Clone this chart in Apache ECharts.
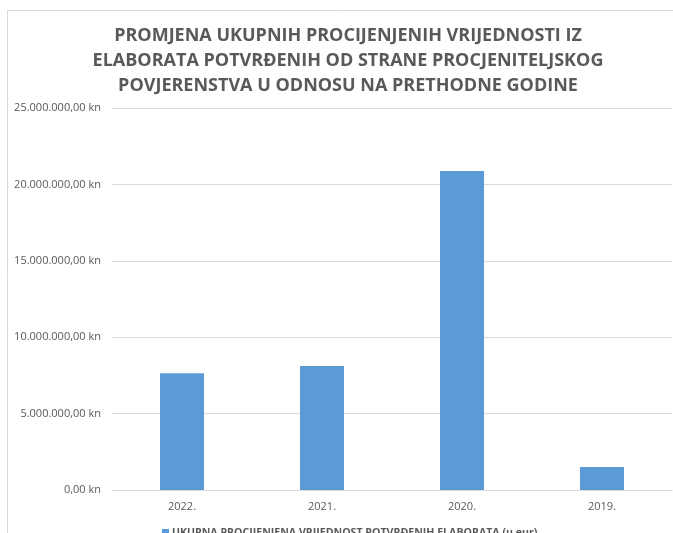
<!DOCTYPE html>
<html>
<head>
<meta charset="utf-8">
<script src="https://cdn.jsdelivr.net/npm/echarts@6/dist/echarts.min.js"></script>
<style>
  html, body { margin: 0; padding: 0; background: #ffffff; }
  #chart { width: 673px; height: 533px; }
</style>
</head>
<body>
<div id="chart"></div>
<script>
// Years shown along the horizontal axis
const years = ['2022.', '2021.', '2020.', '2019.'];
// Total estimated value of confirmed reports per year
const totals = [7640000, 8120000, 20880000, 1510000];
// Value axis settings
const axisMax = 25000000;
const axisStep = 5000000;

const seriesName = 'UKUPNA PROCIJENJENA VRIJEDNOST POTVRĐENIH ELABORATA (u eur)';
const titleText = 'PROMJENA UKUPNIH PROCIJENJENIH VRIJEDNOSTI IZ\nELABORATA POTVRĐENIH OD STRANE PROCJENITELJSKOG\nPOVJERENSTVA U ODNOSU NA PRETHODNE GODINE';

function formatKn(v) {
  const whole = Math.round(v).toString().replace(/\B(?=(\d{3})+(?!\d))/g, '.');
  return whole + ',00 kn';
}

const chart = echarts.init(document.getElementById('chart'), null, { renderer: 'canvas' });
chart.setOption({
  animation: false,
  backgroundColor: '#ffffff',
  textStyle: { fontFamily: 'Open Sans' },
  graphic: [{
    type: 'rect',
    shape: { x: 7.5, y: 10.5, width: 700, height: 600 },
    style: { fill: null, stroke: '#d9d9d9', lineWidth: 1 },
    silent: true
  }],
  title: {
    text: titleText,
    left: 343,
    top: 18,
    textAlign: 'center',
    textStyle: {
      fontFamily: 'Open Sans',
      fontWeight: 'bold',
      fontSize: 18,
      lineHeight: 25,
      color: '#595959'
    }
  },
  legend: {
    data: [seriesName],
    left: 157,
    top: 522,
    itemWidth: 7,
    itemHeight: 7,
    itemGap: 4,
    icon: 'rect',
    textStyle: {
      fontFamily: 'Open Sans',
      fontWeight: 'bold',
      fontSize: 10.6,
      color: '#595959',
      padding: [0, 0, 0, -2]
    }
  },
  grid: { left: 112, right: 1, top: 108, bottom: 43, containLabel: false },
  xAxis: {
    type: 'category',
    data: years,
    axisLine: { lineStyle: { color: '#d9d9d9', width: 1 } },
    axisTick: { show: false },
    axisLabel: { color: '#595959', fontSize: 11, margin: 11, fontFamily: 'Open Sans' }
  },
  yAxis: {
    type: 'value',
    min: 0,
    max: axisMax,
    interval: axisStep,
    axisLine: { show: false },
    axisTick: { show: false },
    splitLine: { lineStyle: { color: '#d9d9d9', width: 1 } },
    axisLabel: { color: '#595959', fontSize: 11, margin: 11, formatter: formatKn, fontFamily: 'Open Sans' }
  },
  series: [{
    name: seriesName,
    type: 'bar',
    data: totals,
    barWidth: 44,
    itemStyle: { color: '#5b9bd5' }
  }]
});
</script>
</body>
</html>
